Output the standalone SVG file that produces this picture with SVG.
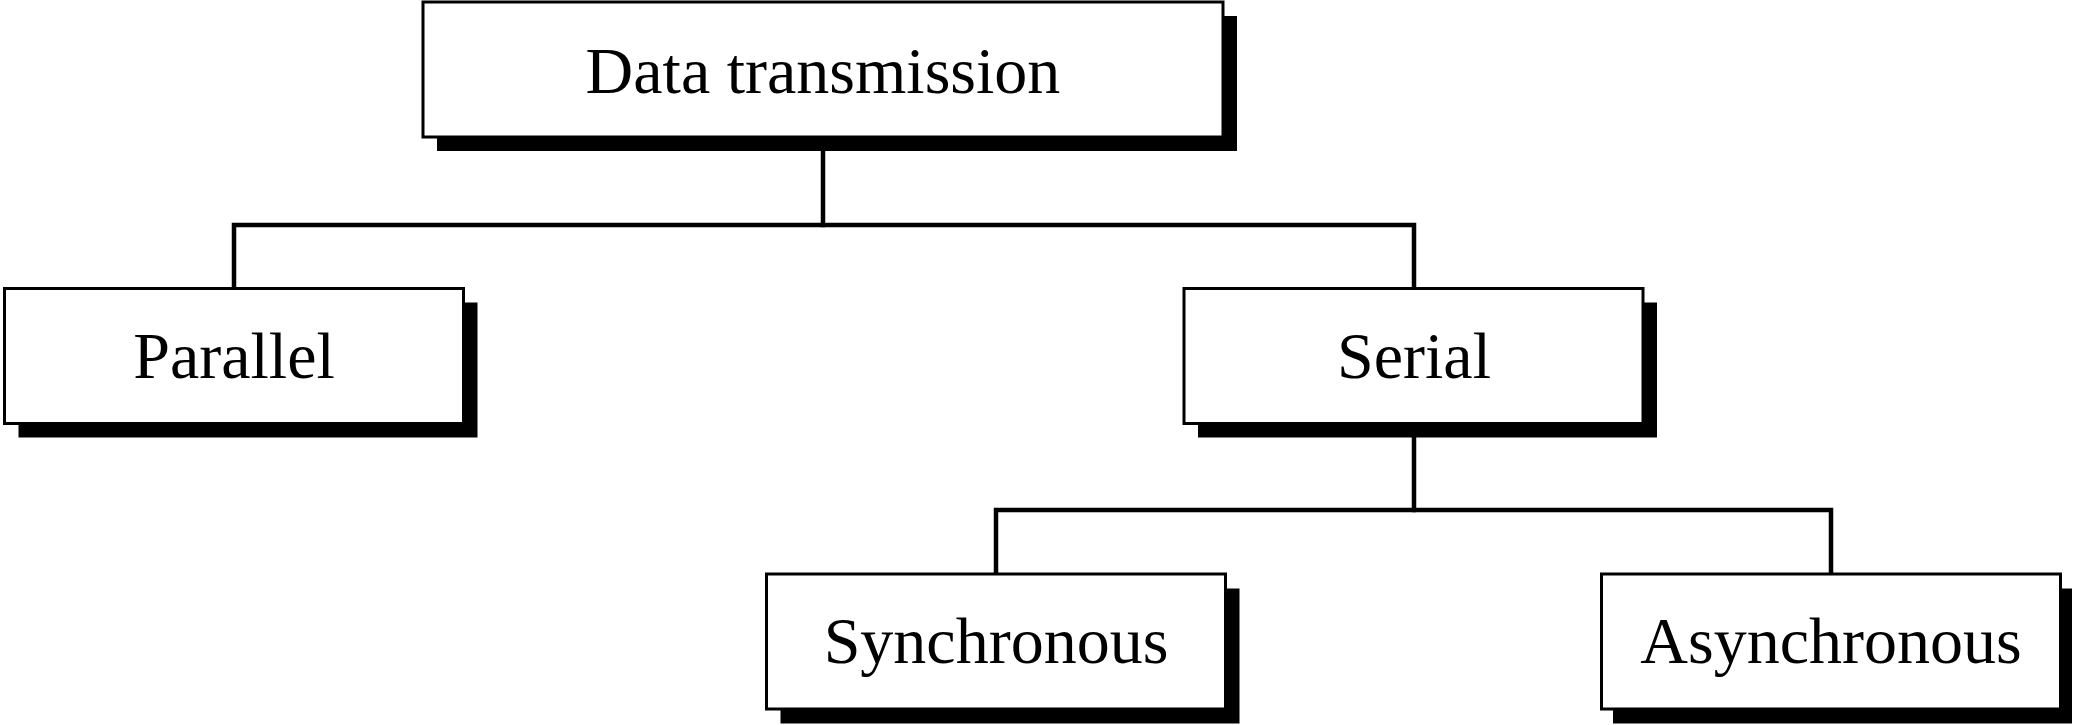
<svg xmlns="http://www.w3.org/2000/svg" width="2074" height="725" viewBox="0 0 2074 725">
<style>
.shadow{fill:#000}
.box{fill:#fff;stroke:#000;stroke-width:3}
.lbl{font-family:"Liberation Serif","Times New Roman",serif;font-size:66px;fill:#000;text-anchor:middle}
.conn{fill:none;stroke:#000;stroke-width:4.5;stroke-linecap:square}
</style>
<rect width="2074" height="725" fill="#fff"/>
<g id="connectors">
<path class="conn" d="M823 138 V225"/>
<path class="conn" d="M234 287 V225 H1414 V287"/>
<path class="conn" d="M1414 424 V510"/>
<path class="conn" d="M996 572 V510 H1831 V572"/>
</g>
<g id="node-data-transmission">
<rect class="shadow" x="437" y="16" width="800" height="135"/>
<rect class="box" x="423" y="2" width="800" height="135"/>
<text class="lbl" x="823" y="93">Data transmission</text>
</g>
<g id="node-parallel">
<rect class="shadow" x="18.5" y="302.5" width="459" height="135"/>
<rect class="box" x="4.5" y="288.5" width="459" height="135"/>
<text class="lbl" x="234" y="378">Parallel</text>
</g>
<g id="node-serial">
<rect class="shadow" x="1198" y="302.5" width="459" height="135"/>
<rect class="box" x="1184" y="288.5" width="459" height="135"/>
<text class="lbl" x="1414" y="378">Serial</text>
</g>
<g id="node-synchronous">
<rect class="shadow" x="780.5" y="588.5" width="459" height="135"/>
<rect class="box" x="766.5" y="574" width="459" height="135"/>
<text class="lbl" x="996" y="663">Synchronous</text>
</g>
<g id="node-asynchronous">
<rect class="shadow" x="1613" y="588.5" width="459" height="135"/>
<rect class="box" x="1601.5" y="574" width="459" height="135"/>
<text class="lbl" x="1831" y="663">Asynchronous</text>
</g>
</svg>
